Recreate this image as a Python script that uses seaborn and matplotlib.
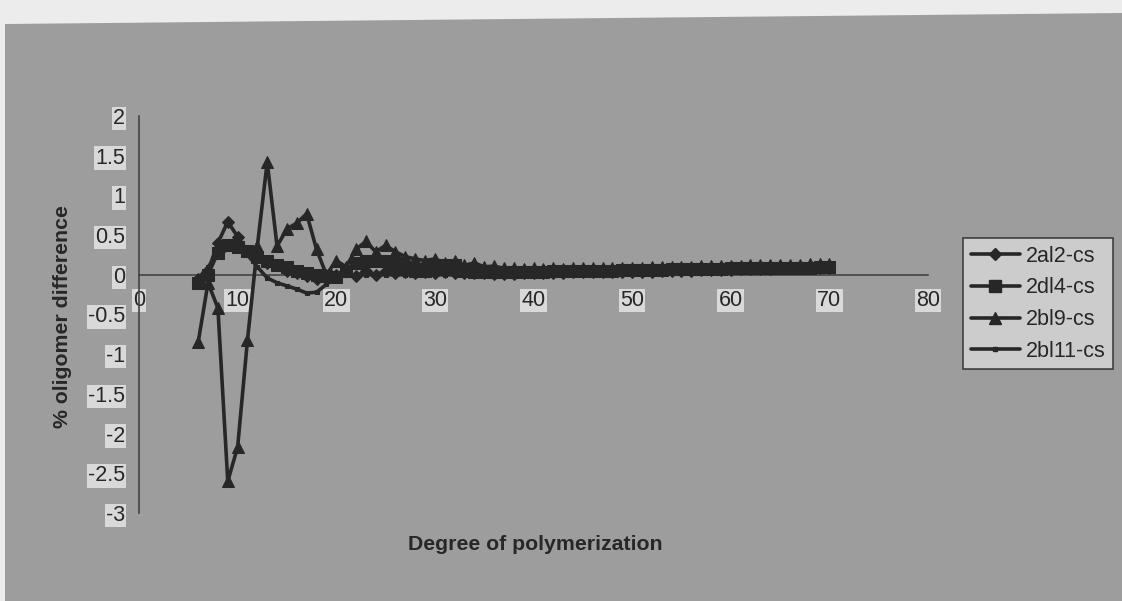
import numpy as np
import pandas as pd
import matplotlib
matplotlib.use("Agg")
import matplotlib.pyplot as plt
from matplotlib.patches import Polygon
from matplotlib.lines import Line2D
from matplotlib.ticker import MultipleLocator
import seaborn as sns

# Degree of polymerization (x) for every series
dp = list(range(6, 71))

al2_cs = [-0.05, 0.05, 0.40, 0.67, 0.48, 0.30, 0.25, 0.15, 0.12, 0.05,
          0.02, -0.02, -0.05, -0.03, 0.00, 0.05, -0.02, 0.05, 0.00, 0.05,
          0.02, 0.04, 0.02, 0.03, 0.02, 0.03, 0.02, 0.02, 0.02, 0.02,
          0.01, 0.01, 0.01, 0.02, 0.02, 0.02, 0.02, 0.02, 0.03, 0.03,
          0.03, 0.03, 0.03, 0.04, 0.04, 0.04, 0.04, 0.05, 0.05, 0.05,
          0.05, 0.06, 0.06, 0.06, 0.06, 0.07, 0.07, 0.07, 0.07, 0.08,
          0.08, 0.08, 0.09, 0.09, 0.09]
dl4_cs = [-0.10, 0.00, 0.28, 0.38, 0.35, 0.30, 0.22, 0.18, 0.12, 0.10,
          0.05, 0.02, 0.00, -0.02, -0.03, 0.05, 0.15, 0.17, 0.17, 0.17,
          0.15, 0.08, 0.05, 0.05, 0.10, 0.12, 0.12, 0.05, 0.04, 0.04,
          0.04, 0.04, 0.04, 0.04, 0.04, 0.04, 0.05, 0.05, 0.05, 0.05,
          0.05, 0.05, 0.05, 0.06, 0.06, 0.06, 0.06, 0.06, 0.07, 0.07,
          0.07, 0.07, 0.07, 0.07, 0.08, 0.08, 0.08, 0.08, 0.08, 0.09,
          0.09, 0.09, 0.09, 0.10, 0.10]
bl9_cs = [-0.85, -0.10, -0.42, -2.60, -2.17, -0.82, 0.36, 1.42, 0.36, 0.58,
          0.65, 0.77, 0.32, 0.00, 0.18, 0.10, 0.32, 0.42, 0.29, 0.37,
          0.29, 0.23, 0.20, 0.18, 0.20, 0.15, 0.17, 0.12, 0.15, 0.10,
          0.11, 0.08, 0.09, 0.07, 0.08, 0.07, 0.08, 0.07, 0.08, 0.08,
          0.08, 0.08, 0.09, 0.09, 0.09, 0.09, 0.10, 0.10, 0.10, 0.10,
          0.10, 0.11, 0.11, 0.11, 0.11, 0.11, 0.12, 0.12, 0.12, 0.12,
          0.12, 0.12, 0.13, 0.13, 0.13]
bl11_cs = [-0.05, 0.10, 0.25, 0.32, 0.32, 0.25, 0.10, -0.04, -0.10, -0.14,
           -0.18, -0.23, -0.22, -0.12, -0.03, 0.00, 0.00, 0.00, 0.00, 0.00,
           0.00, 0.00, 0.00, 0.00, 0.00, 0.00, 0.00, 0.00, 0.00, 0.00,
           0.00, 0.00, 0.00, 0.01, 0.01, 0.01, 0.01, 0.01, 0.02, 0.02,
           0.02, 0.02, 0.03, 0.03, 0.03, 0.03, 0.04, 0.04, 0.04, 0.04,
           0.05, 0.05, 0.05, 0.05, 0.06, 0.06, 0.06, 0.07, 0.07, 0.07,
           0.08, 0.08, 0.08, 0.09, 0.09]

series_names = ["2al2-cs", "2dl4-cs", "2bl9-cs", "2bl11-cs"]
series_values = [al2_cs, dl4_cs, bl9_cs, bl11_cs]
series_markers = ["D", "s", "^", "s"]
series_sizes = [6.5, 8, 9, 3.5]

x_ticks = [0, 10, 20, 30, 40, 50, 60, 70, 80]
y_ticks = [2, 1.5, 1, 0.5, 0, -0.5, -1, -1.5, -2, -2.5, -3]

frames = []
for name, vals in zip(series_names, series_values):
    frames.append(pd.DataFrame({"dp": dp, "diff": vals, "series": name}))
df = pd.concat(frames, ignore_index=True)

sns.set_theme(style="white")
plt.rcParams["font.family"] = ["Liberation Sans", "DejaVu Sans"]

INK = "#272727"
BG = "#9d9d9d"
BOX = "#d9d9d9"
FS = 15.5

fig = plt.figure(figsize=(11.22, 6.01), dpi=100)
fig.patch.set_facecolor(BG)
# pale paper strip around the grey chart panel
fig.patches.append(Polygon([[0, 1], [1, 1], [1, 1 - 13 / 601], [5 / 1122, 1 - 24 / 601],
                            [5 / 1122, 0], [0, 0]], closed=True, transform=fig.transFigure,
                           facecolor="#ececec", edgecolor="none", zorder=0))

ax = fig.add_axes([139 / 1122, 1 - 513 / 601, (928 - 139) / 1122, (513 - 116) / 601])
ax.set_facecolor("none")

sns.lineplot(data=df, x="dp", y="diff", hue="series", style="series",
             palette=[INK] * 4, markers=series_markers, dashes=False,
             linewidth=2.6, markersize=7, markeredgecolor=INK,
             estimator=None, sort=False, ax=ax, legend=False, zorder=3)
for line, ms in zip(ax.lines, series_sizes):
    line.set_markersize(ms)
    line.set_markerfacecolor(INK)

ax.set_xlim(0, 80)
ax.set_ylim(-3, 2)
ax.set_xlabel("")
ax.set_ylabel("")
for s in ["top", "right"]:
    ax.spines[s].set_visible(False)
ax.spines["left"].set_position(("data", 0))
ax.spines["bottom"].set_position(("data", 0))
for s in ["left", "bottom"]:
    ax.spines[s].set_color("#444444")
    ax.spines[s].set_linewidth(1.2)

ax.set_xticks(x_ticks)
ax.set_yticks(y_ticks)
ax.set_xticklabels([str(t) for t in x_ticks])
ax.set_yticklabels([f"{t:g}" for t in y_ticks])
ax.yaxis.set_minor_locator(MultipleLocator(0.1))
ax.tick_params(axis="both", which="major", direction="inout", length=12, width=1.1,
               color="#444444", labelsize=FS, labelcolor=INK)
ax.tick_params(axis="y", which="minor", direction="inout", length=4, width=0.6, color="#555555")
ax.tick_params(axis="x", which="major", pad=5)
ax.tick_params(axis="y", which="major", pad=4)
for lab in ax.get_xticklabels() + ax.get_yticklabels():
    lab.set_bbox(dict(facecolor=BOX, edgecolor="none", pad=1.0))

fig.text(535 / 1122, 1 - 545 / 601, "Degree of polymerization", ha="center", va="center",
         fontsize=15.3, fontweight="bold", color=INK)
fig.text(62 / 1122, 1 - 317 / 601, "% oligomer difference", ha="center", va="center",
         rotation=90, fontsize=15.3, fontweight="bold", color=INK)

handles = [Line2D([], [], color=INK, lw=2.6, marker=m, markersize=s, markerfacecolor=INK,
                  markeredgecolor=INK) for m, s in zip(series_markers, series_sizes)]
leg = fig.legend(handles, series_names, loc="upper left",
                 bbox_to_anchor=(963 / 1122, 1 - 238 / 601), borderaxespad=0, frameon=True,
                 fontsize=FS, handlelength=2.3, handletextpad=0.25, labelspacing=0.5,
                 borderpad=0.35, fancybox=False)
leg.get_frame().set_facecolor(BOX)
leg.get_frame().set_edgecolor("#222222")
leg.get_frame().set_linewidth(1.2)
for t in leg.get_texts():
    t.set_color(INK)

fig.savefig("out.png", dpi=100, facecolor=fig.get_facecolor())
